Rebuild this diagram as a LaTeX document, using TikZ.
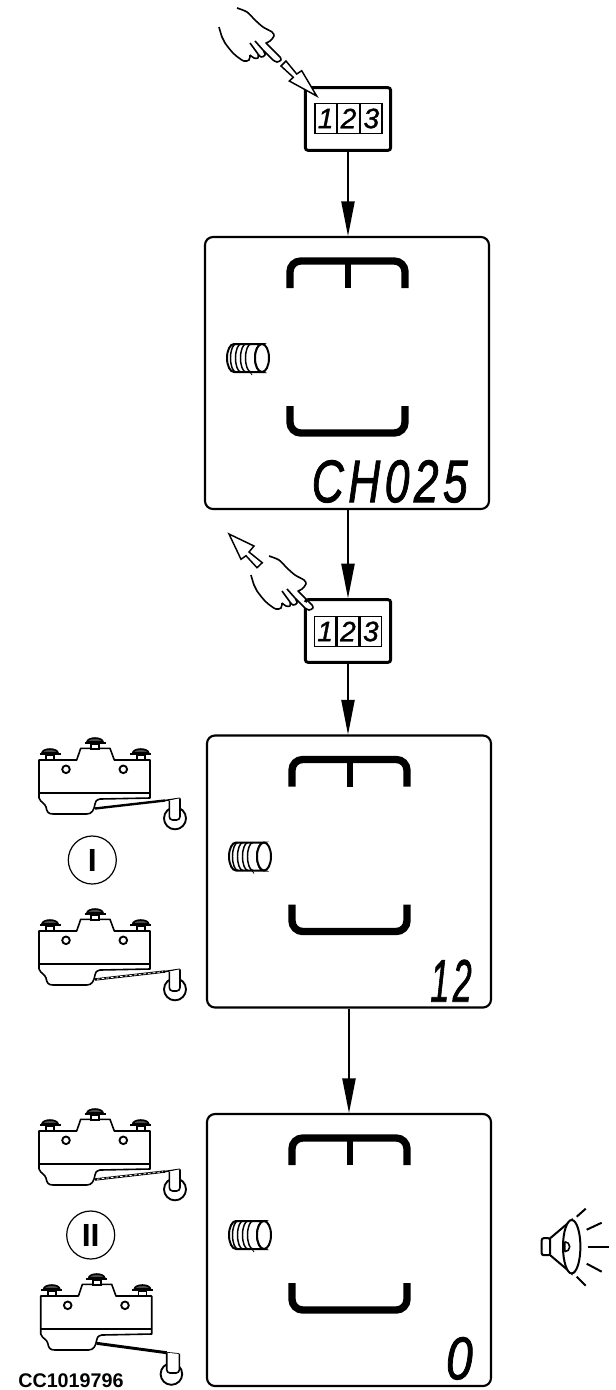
\documentclass[tikz,border=0pt]{standalone}
\usepackage{fontspec}
\setmainfont{Liberation Sans}
\usetikzlibrary{arrows.meta, positioning}
\newcommand{\lcdword}[3]{\resizebox{#1pt}{#2pt}{\itshape\addfontfeature{LetterSpace=10, FakeBold=1.6}#3}}

\begin{document}
\begin{tikzpicture}[x=0.75pt, y=-0.75pt,
  lcdbox/.style={draw, line width=1.6pt, rounded corners=6pt, minimum width=213pt, minimum height=204pt, inner sep=0pt},
  keybox/.style={draw, line width=2.2pt, rounded corners=2pt, minimum width=64pt, minimum height=47pt, inner sep=0pt},
  keycell/.style={draw, line width=0.9pt, minimum width=16pt, minimum height=22pt, inner sep=0pt, font=\fontsize{21}{21}\selectfont\itshape\addfontfeature{FakeBold=1.2}},
  lcdtext/.style={inner sep=0pt, anchor=south east},
  arr/.style={-{Triangle[length=26pt, width=10pt]}, line width=1.1pt},
  openarr/.style={draw, fill=white, line width=1.1pt, line join=miter},
  stateno/.style={draw, circle, line width=0.9pt, minimum size=36pt, inner sep=0pt, font=\fontsize{24}{24}\selectfont\bfseries},
  thin1/.style={line width=1.2pt},
  pics/frame/.style={code={
    \draw[line width=5.5pt, rounded corners=8pt] (-57,-85) -- (-57,-112) -- (58,-112) -- (58,-85);
    \draw[line width=4.5pt] (1,-112) -- (1,-85);
    \draw[line width=5.5pt, rounded corners=8pt] (-57,33) -- (-57,60) -- (58,60) -- (58,33);
    \draw[line width=1.5pt, fill=white] (-113,-29) -- (-85,-29) arc[start angle=270, end angle=90, x radius=7, y radius=14]
      -- (-113,-1) arc[start angle=90, end angle=270, x radius=7, y radius=14] -- cycle;
    \draw[line width=1.5pt, fill=white] (-85,-15) ellipse[x radius=7, y radius=14];
    \foreach \xc in {-111,-106,-101,-96} {
      \draw[line width=1.1pt] (\xc,-29) arc[start angle=270, end angle=90, x radius=5.5, y radius=14];
    }
    \draw[line width=0.6pt] (-97,-1) -- (-95,2);
  }},
  pics/fingerhand/.style={code={
    \draw[thin1, fill=white, line join=round] plot[smooth, tension=.5] coordinates {(-43,-53) (-33,-49) (-25,-41) (-17,-34) (-8,-29) (-6,-25) (-10,-20) (-14,-18)}
      -- (0,-4) plot[smooth, tension=.6] coordinates {(0,-4) (1,-1) (-3,1) (-7,-1)}
      -- (-17,-11) plot[smooth, tension=.6] coordinates {(-17,-11) (-15,-6) (-19,-4) (-22,-7)}
      plot[smooth, tension=.6] coordinates {(-22,-7) (-22,-3) (-26,-3) (-30,-6)}
      plot[smooth, tension=.6] coordinates {(-30,-6) (-31,-1) (-36,0) (-41,-3) (-47,-8) (-55,-18) (-58,-24) (-61,-34)};
    \draw[thin1] (-30,-18) -- (-22,-7);
    \draw[thin1] (-25,-20) -- (-17,-11);
  }},
  pics/switchbody/.style={code={
    \draw[thin1, line join=round, fill=white] (0,0) -- (37.7,0) -- (41.7,-11.7) -- (71,-11.7) -- (75.3,0) -- (111,0) -- (111,38)
      -- (61,39) .. controls (57,40) and (56,42) .. (56,44) .. controls (55,50) and (53,54) .. (47.7,54) -- (14.3,54)
      .. controls (9,54) and (8,52) .. (7,47) .. controls (6,43) and (2,43) .. (0,38) -- cycle;
    \draw[line width=1.8pt] (0,33) -- (111,33);
    \foreach \xs/\ys in {11/-7, 56/-18, 101.7/-7} {
      \draw[thin1, fill=white] (\xs-4,\ys+2) rectangle (\xs+4,\ys+7);
      \draw[thin1, fill=black!70] (\xs-8,\ys) arc[start angle=180, end angle=360, x radius=8, y radius=4] -- cycle;
      \draw[line width=2.2pt] (\xs-10.5,\ys+1) -- (\xs+10.5,\ys+1);
    }
    \draw[line width=1.4pt] (27,9.3) circle[radius=3.8] (84.3,9.3) circle[radius=3.8];
  }},
  pics/leverup/.style={code={
    \draw[line width=1.8pt] (56,48.5) -- (126,40.5);
    \draw[thin1] (126,40.5) -- (141,38.3);
    \draw[line width=1.4pt] (136,58.3) circle[radius=11];
    \draw[thin1, fill=white, rounded corners=2.5pt] (130.3,40.5) -- (130.3,60) -- (141,60) [sharp corners] -- (141,38.3);
  }},
  pics/leverdots/.style={code={
    \draw[white, line width=0.6pt, dash pattern=on 2pt off 1.5pt] (58,48.2) -- (124,40.7);
  }},
  pics/leverdown/.style={code={
    \draw[line width=2.2pt] (56,47.3) -- (126,56.7);
    \draw[thin1] (126,56.7) -- (138.7,58);
    \draw[line width=1.4pt] (130.7,78) circle[radius=10.8];
    \draw[thin1, fill=white, rounded corners=2.5pt] (126,56.7) -- (126,77) -- (138.7,77) [sharp corners] -- (138.7,58);
  }},
  pics/hornicon/.style={code={
    \draw[line width=1.5pt, rounded corners=1.5pt, fill=white] (0,-8.5) rectangle (8.5,8.5);
    \draw[line width=1.5pt, fill=white] (8.5,-8.5) -- (30,-26.7) -- (30,26.7) -- (8.5,8.5) -- cycle;
    \draw[line width=1.5pt, fill=white] (30,0) ellipse[x radius=8.7, y radius=26.7];
    \draw[line width=1.2pt] (23,-5) -- (23,5) (23,-5) arc[start angle=270, end angle=450, radius=5];
    \foreach \xa/\ya/\xb/\yb in {35/-30/44/-38, 45/-17/60/-24, 46/0/67/0, 45/17/60/25, 35/30/44/39} {
      \draw[line width=1.5pt] (\xa,\ya) -- (\xb,\yb);
    }
  }},
]
\useasboundingbox (0,0) rectangle (616,1390);

% keypad A
\node[keybox] (keyA) at (348,119) {};
\node[keycell, minimum width=16.5pt] (cellA2) at (348.5,118.5) {2};
\node[keycell, left=0pt of cellA2] (cellA1) {1};
\node[keycell, right=0pt of cellA2] (cellA3) {3};
\pic at (280,61) {fingerhand};
\draw[openarr] (281,66) -- (286,61) -- (296.7,74) -- (301.7,70.7) -- (316.7,96) -- (289.3,81) -- (293.3,77.3) -- cycle;

% display A
\node[lcdbox] (lcdA) at (347,373) {};
\pic at (347,373) {frame};
\node[lcdtext] (wordA) at (468,503) {\lcdword{117}{31.5}{CH025}};

% keypad B
\node[keybox] (keyB) at (348,631) {};
\node[keycell, minimum width=16.5pt] (cellB2) at (348,631.5) {2};
\node[keycell, left=0pt of cellB2] (cellB1) {1};
\node[keycell, right=0pt of cellB2] (cellB3) {3};
\pic at (312,609) {fingerhand};
\draw[openarr] (257,567.7) -- (262.3,562.7) -- (249,552) -- (254,546) -- (229,534) -- (241,559.3) -- (246,555.7) -- cycle;

% display B
\node[lcdbox] (lcdB) at (349,871.5) {};
\pic at (349,871.5) {frame};
\node[lcdtext] (wordB) at (472,1002) {\lcdword{31}{31.5}{12}};

% display C
\node[lcdbox] (lcdC) at (349,1250) {};
\pic at (349,1250) {frame};
\node[lcdtext] (wordC) at (473,1380) {\lcdword{20}{31.5}{0}};

% switches, state I
\pic at (39,760) {switchbody};
\pic at (39,760) {leverup};
\node[stateno] (stateI) at (92.3,860) {I};
\pic at (39,931) {switchbody};
\pic at (39,931) {leverup};
\pic at (39,931) {leverdots};

% switches, state II
\pic at (39,1131) {switchbody};
\pic at (39,1131) {leverup};
\pic at (39,1131) {leverdots};
\node[stateno] (stateII) at (90.7,1235) {II};
\pic at (40.7,1296) {switchbody};
\pic at (40.7,1296) {leverdown};

\pic at (541.7,1246.7) {hornicon};
\node[anchor=west, inner sep=0pt, font=\fontsize{14.8}{14.8}\selectfont\bfseries] (partno) at (18,1381) {CC1019796};

\draw[arr] (keyA.south) -- (keyA.south |- lcdA.north);
\draw[arr] (lcdA.south -| keyB.north) -- (keyB.north);
\draw[arr] (keyB.south) -- (keyB.south |- lcdB.north);
\draw[arr] (lcdB) -- (lcdC);
\end{tikzpicture}
\end{document}
